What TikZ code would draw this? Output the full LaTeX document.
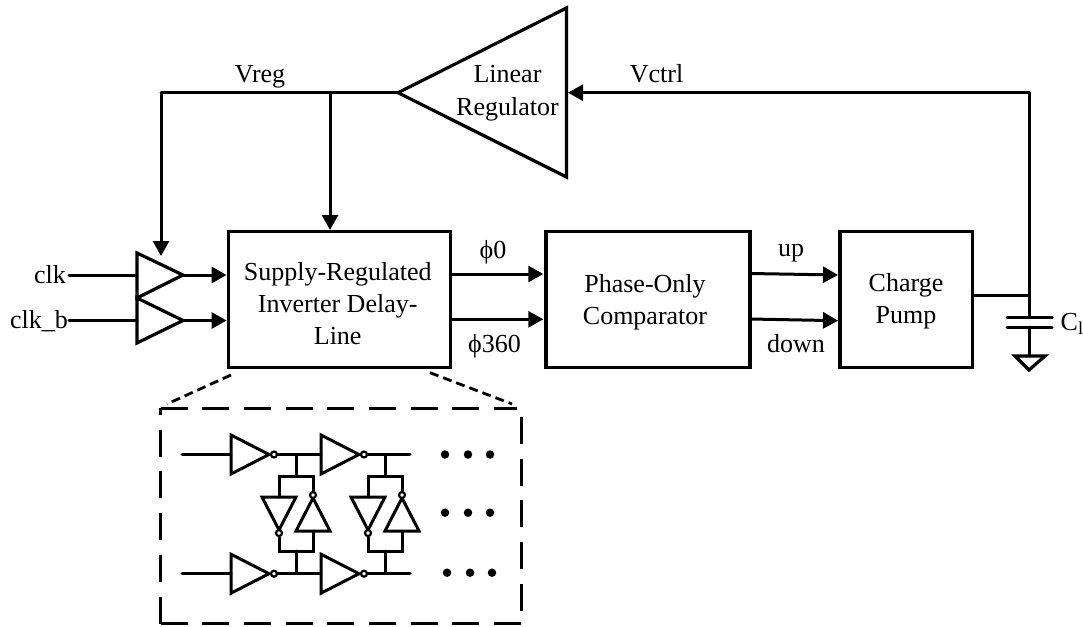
\documentclass[tikz,border=0pt]{standalone}
\usepackage{fontspec}
\setmainfont{Liberation Serif}
\usetikzlibrary{arrows.meta}
\tikzset{
  wire/.style={line width=3pt,line cap=round,line join=round},
  arrowwire/.style={wire,line cap=butt,-{Triangle[length=15pt,width=16pt]}},
  block/.style={draw,line width=3.4pt,rectangle,inner sep=0pt},
  blocktext/.style={inner sep=0pt,align=center,font=\fontsize{26}{32}\selectfont},
  lab/.style={inner sep=0pt,font=\fontsize{26}{32}\selectfont},
  tri/.style={line width=3.2pt,line join=miter},
  invw/.style={line width=3pt,line join=miter,line cap=round},
  bub/.style={draw,line width=2.2pt,fill=white,circle,inner sep=0pt,minimum size=6pt},
  dotn/.style={fill=black,circle,inner sep=0pt,minimum size=8.5pt},
  bigdash/.style={line width=3pt,dash pattern=on 27pt off 14.7pt},
  smalldash/.style={line width=2.8pt,dash pattern=on 9pt off 5pt}
}
% horizontal inverter: #1 name, #2 left x, #3 y
\newcommand{\invH}[3]{%
  \coordinate (#1in) at (#2,#3);
  \draw[invw] (#2,#3-19.5) -- (#2,#3+19.5) -- (#2+38,#3) -- cycle;
  \node[bub] (#1b) at (#2+43,#3) {};
  \coordinate (#1out) at (#2+46,#3);
}
% downward inverter: #1 name, #2 centre x, #3 top y
\newcommand{\invD}[3]{%
  \coordinate (#1in) at (#2,#3);
  \draw[invw] (#2-17,#3) -- (#2+17,#3) -- (#2,#3+33) -- cycle;
  \node[bub] (#1b) at (#2,#3+36) {};
}
% upward inverter: #1 name, #2 centre x, #3 base y
\newcommand{\invU}[3]{%
  \coordinate (#1in) at (#2,#3);
  \draw[invw] (#2-17,#3) -- (#2+17,#3) -- (#2,#3-33) -- cycle;
  \node[bub] (#1b) at (#2,#3-36) {};
}
% cross-coupled pair: #1 name, #2 x of stub, #3 top wire junction, #4 bottom wire junction
\newcommand{\pairX}[4]{%
  \invD{#1d}{#2-17}{497}
  \invU{#1u}{#2+17}{531}
  \coordinate (#1tl) at (#2-17,476.5);
  \coordinate (#1tr) at (#2+17,476.5);
  \coordinate (#1bl) at (#2-17,551);
  \coordinate (#1br) at (#2+17,551);
  \draw[invw] (#3) -- (#2,476.5);
  \draw[invw] (#1db) -- (#1bl) -- (#1br) -- (#1uin);
  \draw[invw] (#1din) -- (#1tl) -- (#1tr) -- (#1ub);
  \draw[invw] (#4) -- (#2,551);
}
\begin{document}
\begin{tikzpicture}[x=1pt,y=-1pt]
\useasboundingbox (0,0) rectangle (1083,626);

% blocks
\node[block,minimum width=222.4pt,minimum height=135.6pt] (dl) at (339.5,299.5) {};
\node[block,minimum width=204pt,minimum height=135.6pt] (pc) at (648,299.5) {};
\node[block,minimum width=132.7pt,minimum height=135.6pt] (cp) at (906.35,299.5) {};
\node[blocktext] (dlt) at (337.7,303.2) {Supply-Regulated\\Inverter Delay-\\Line};
\node[blocktext] (pct) at (645,302.6) {Phase-Only\\Comparator};
\node[blocktext] (cpt) at (906,300.9) {Charge\\Pump};

% regulator
\coordinate (rapex) at (398,92.7);
\coordinate (rtop) at (566.5,8);
\coordinate (rbot) at (566.5,177);
\coordinate (rin) at (568,92.7);
\draw[tri] (rapex) -- (rtop) -- (rbot) -- cycle;
\node[blocktext,font=\fontsize{26}{33}\selectfont] (lr) at (507.5,93.4) {Linear\\Regulator};

% buffers
\coordinate (b1t) at (137,253); \coordinate (b1b) at (137,298); \coordinate (b1o) at (183,275);
\coordinate (b2t) at (137,298); \coordinate (b2b) at (137,343); \coordinate (b2o) at (183,320.5);
\draw[tri] (b1t) -- (b1o) -- (b1b) -- cycle;
\draw[tri] (b2t) -- (b2o) -- (b2b) -- cycle;
\coordinate (b1i) at (137,275); \coordinate (b2i) at (137,320.5);

% labels and inputs
\node[lab,anchor=base east] (clk) at (66,283) {clk};
\node[lab,anchor=base east] (clkb) at (68,328) {clk\_b};
\draw[wire] (clk.east |- b1i) ++(3,0) -- (b1i);
\draw[wire] (clkb.east |- b2i) ++(1,0) -- (b2i);
\draw[arrowwire] (b1o) -- (b1o -| dl.west);
\draw[arrowwire] (b2o) -- (b2o -| dl.west);

% Vreg
\coordinate (vl) at (161,92.7);
\coordinate (vm) at (330,92.7);
\coordinate (b1top) at (161,256);
\draw[wire] (rapex) -- (vl);
\draw[arrowwire] (vl) -- (b1top);
\draw[arrowwire] (vm) -- (vm |- dl.north);
\node[lab,anchor=base] (vreg) at (260,82) {Vreg};

% Vctrl
\coordinate (vr) at (1029,92.7);
\coordinate (vj) at (1029,295.5);
\draw[wire] (vj) -- (vr);
\draw[arrowwire] (vr) -- (rin);
\node[lab,anchor=base] (vctrl) at (656.5,82) {Vctrl};

% phases
\coordinate (d0) at (dl.east |- 0,274);
\coordinate (d1) at (dl.east |- 0,319.3);
\draw[arrowwire,shorten >=1pt] (d0) -- (d0 -| pc.west);
\draw[arrowwire,shorten >=1pt] (d1) -- (d1 -| pc.west);
\node[lab,anchor=base] (p0) at (493,258) {ϕ0};
\node[lab,anchor=base] (p360) at (494.5,352) {ϕ360};

% up/down
\coordinate (u0) at (750,273.5); \coordinate (u1) at (838,275);
\coordinate (d2) at (750,319); \coordinate (d3) at (838,320.7);
\draw[arrowwire] (u0) -- (u1);
\draw[arrowwire] (d2) -- (d3);
\node[lab,anchor=base] (up) at (791,256) {up};
\node[lab,anchor=base] (down) at (796,352.7) {down};

% charge pump output, capacitor
\coordinate (cpo) at (cp.east |- vj);
\draw[wire] (cpo) -- (vj);
\coordinate (c1) at (1029,317); \coordinate (c2) at (1029,327);
\coordinate (gnd) at (1029,356);
\draw[wire] (vj) -- (c1);
\draw[wire] (c2) -- (gnd);
\draw[line width=3pt,line cap=round] (1007,317) -- (1052,317);
\draw[line width=3pt,line cap=round] (1007,327) -- (1052,327);
\draw[tri] (1015,356) -- (1045,356) -- (1029,370) -- cycle;
\node[lab,anchor=base west] (cl) at (1060.5,330) {C\textsubscript{l}};

% inset
\coordinate (ibl) at (160.5,623.5);
\coordinate (itl) at (160.5,408);
\coordinate (itr) at (517,408);
\coordinate (irt) at (521,417);
\coordinate (ibr) at (521,623.5);
\coordinate (zl0) at (231,375); \coordinate (zl1) at (167,404);
\coordinate (zr0) at (430,372.7); \coordinate (zr1) at (512,404);
\draw[bigdash] (itl) -- (itr);
\draw[bigdash] (irt) -- (ibr);
\draw[bigdash] (ibl) -- (ibr);
\draw[bigdash] (ibl) -- (itl);
\draw[smalldash] (zl0) -- (zl1);
\draw[smalldash] (zr0) -- (zr1);

\invH{a}{231}{454.5}
\invH{b}{321}{454.5}
\invH{c}{231}{573.7}
\invH{d}{321}{573.7}
\coordinate (t0) at (182,454.5); \coordinate (t3) at (410,454.5);
\coordinate (s0) at (182,573.7); \coordinate (s3) at (410,573.7);
\draw[invw] (t0) -- (ain);
\draw[invw] (aout) -- (bin);
\draw[invw] (bout) -- (t3);
\draw[invw] (s0) -- (cin);
\draw[invw] (cout) -- (din);
\draw[invw] (dout) -- (s3);
\coordinate (j1) at (296,454.5); \coordinate (j2) at (385,454.5);
\coordinate (k1) at (296,573.7); \coordinate (k2) at (385,573.7);
\pairX{p}{296}{j1}{k1}
\pairX{q}{385}{j2}{k2}

\foreach \n/\px/\py in {1/445/454.5,2/468/454.5,3/490/454.5,4/445/512.7,5/468/512.7,6/490/512.7,7/447/572.7,8/470/572.7,9/492/572.7}
  \node[dotn] (dot\n) at (\px,\py) {};
\end{tikzpicture}
\end{document}
